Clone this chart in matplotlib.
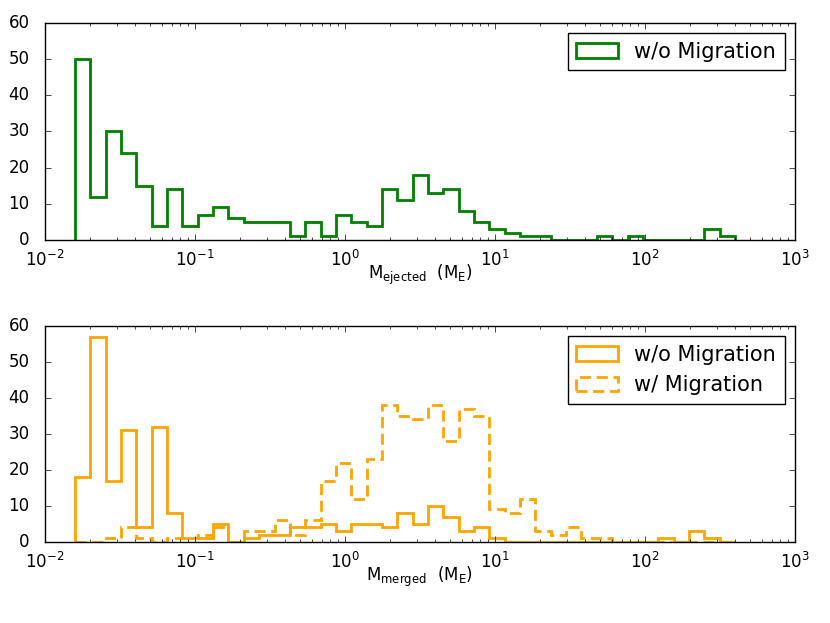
import numpy as np
import matplotlib
matplotlib.use("Agg")
import matplotlib.pyplot as plt

plt.style.use("classic")
plt.rcParams["font.family"] = ["DejaVu Sans"]
plt.rcParams["mathtext.fontset"] = "dejavusans"
plt.rcParams["figure.facecolor"] = "white"
plt.rcParams["savefig.facecolor"] = "white"
plt.rcParams["lines.scale_dashes"] = False

# Bin grid (log10 mass range of the histograms, 43 log-spaced bins)
log_min = -1.8
log_max = 2.6
n_bins = 43

ejected_wo = [50, 12, 30, 24, 15, 4, 14, 4, 7, 9, 6, 5, 5, 5, 1, 5, 1, 7, 5, 4,
              14, 11, 18, 13, 14, 8, 5, 3, 2, 1, 1, 0, 0, 0, 1, 0, 1, 0, 0, 0,
              0, 3, 1]
merged_wo = [18, 57, 17, 31, 4, 32, 8, 1, 1, 5, 0, 1, 2, 2, 4, 4, 5, 3, 5, 5,
             4, 8, 5, 10, 7, 3, 4, 1, 0, 0, 0, 0, 0, 0, 0, 0, 0, 0, 1, 0,
             3, 1, 0]
merged_w = [0, 0, 1, 4, 1, 0, 1, 1, 2, 4, 0, 3, 3, 6, 2, 6, 17, 22, 12, 23,
            38, 35, 34, 38, 28, 37, 35, 9, 8, 12, 3, 2, 4, 1, 1, 0, 0, 0, 0, 0,
            0, 0, 0]

label_wo = "w/o Migration"
label_w = "w/ Migration"
xlabel_top = r"$\mathregular{M_{ejected}\ \ (M_E)}$"
xlabel_bot = r"$\mathregular{M_{merged}\ \ (M_E)}$"

edges = np.logspace(log_min, log_max, n_bins + 1)
centers = np.sqrt(edges[:-1] * edges[1:])

fig = plt.figure(figsize=(8.3, 6.23), dpi=100)
ax1 = fig.add_axes([0.0542, 0.6148, 0.9036, 0.3483])
ax2 = fig.add_axes([0.0542, 0.1305, 0.9036, 0.3462])

ax1.hist(centers, bins=edges, weights=ejected_wo, histtype="step",
         color="green", lw=2, label=label_wo)
ax2.hist(centers, bins=edges, weights=merged_wo, histtype="step",
         color="orange", lw=2, label=label_wo)
ax2.hist(centers, bins=edges, weights=merged_w, histtype="step",
         color="orange", lw=2, ls=(0, (8, 4)), label=label_w)

for ax, xl in ((ax1, xlabel_top), (ax2, xlabel_bot)):
    ax.set_xscale("log")
    ax.set_xlim(1e-2, 1e3)
    ax.set_ylim(0, 60)
    ax.set_yticks(np.arange(0, 61, 10))
    ax.tick_params(axis="both", labelsize=12)
    ax.tick_params(axis="y", which="major", pad=11)
    ax.tick_params(axis="x", which="major", pad=7)
    ax.set_xlabel(xl, fontsize=12, labelpad=-5)
    ax.legend(loc="upper right", fontsize=15, handlelength=2.0)

fig.savefig("out.png", dpi=100)
